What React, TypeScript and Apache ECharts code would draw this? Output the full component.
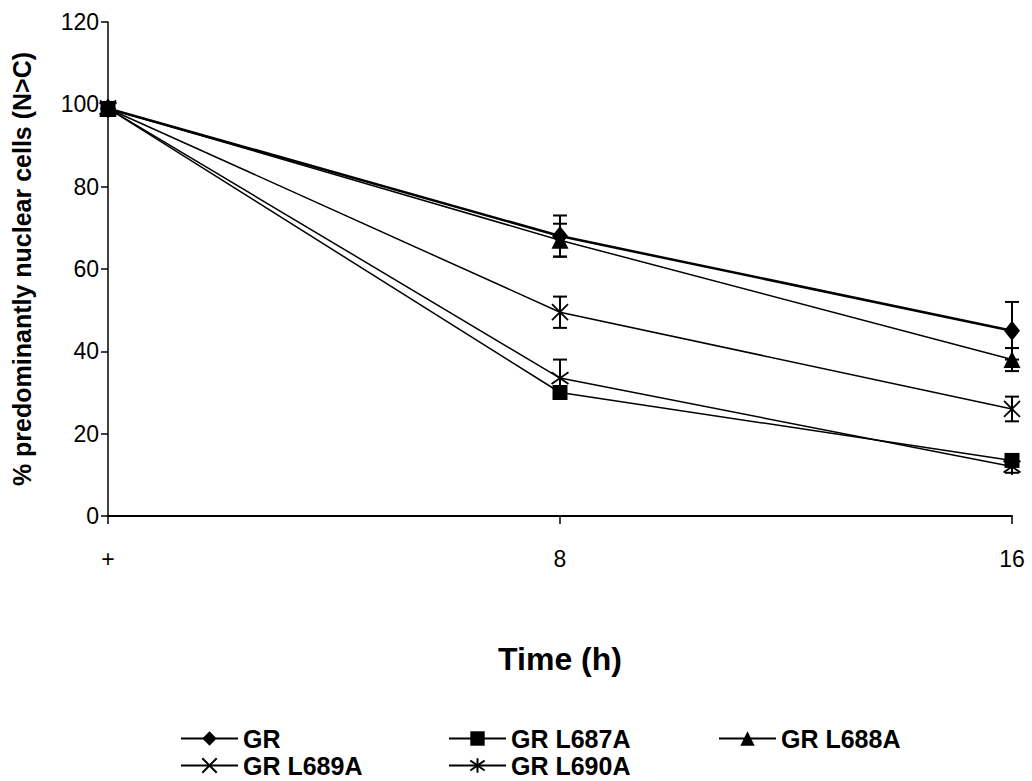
import React, { useEffect, useRef } from "react";
import * as echarts from "echarts";

const categories = ["+", "8", "16"];
const yTicks = { min: 0, max: 120, interval: 20 };

const seriesNames = ["GR", "GR L687A", "GR L688A", "GR L689A", "GR L690A"];
const grValues = [99, 68, 45];
const grErr = [1, 5, 7];
const l687aValues = [99, 30, 13.5];
const l687aErr = [1, 1, 1];
const l688aValues = [99, 67, 38];
const l688aErr = [1, 4, 2.8];
const l689aValues = [99, 49.5, 26];
const l689aErr = [1, 3.8, 3];
const l690aValues = [99, 33.5, 12];
const l690aErr = [1, 4.5, 1.5];

const X_PATH = "path://M0,0L10,10M0,10L10,0";
const STAR_PATH = "path://M5,0L5,10M0,1.5L10,8.5M0,8.5L10,1.5";

export default function App() {
  const ref = useRef<HTMLDivElement>(null);
  useEffect(() => {
    if (!ref.current) return;
    const chart = echarts.init(ref.current, null, { renderer: "svg" });
    const font = "Liberation Sans, Arial, Helvetica, sans-serif";

    const defs = [
      { name: seriesNames[0], values: grValues, err: grErr, symbol: "diamond", size: [16, 20], width: 2.5, stroke: false },
      { name: seriesNames[1], values: l687aValues, err: l687aErr, symbol: "rect", size: 15, width: 1.5, stroke: false },
      { name: seriesNames[2], values: l688aValues, err: l688aErr, symbol: "triangle", size: 17, width: 1.5, stroke: false },
      { name: seriesNames[3], values: l689aValues, err: l689aErr, symbol: X_PATH, size: 16, width: 1.5, stroke: true },
      { name: seriesNames[4], values: l690aValues, err: l690aErr, symbol: STAR_PATH, size: 17, width: 1.5, stroke: true },
    ];

    const lineSeries = defs.map((d) => ({
      name: d.name,
      type: "line",
      data: d.values,
      symbol: d.symbol,
      symbolSize: d.size,
      showAllSymbol: true,
      lineStyle: { color: "#000", width: d.width },
      itemStyle: d.stroke
        ? { color: "#000", borderColor: "#000", borderWidth: 1.8 }
        : { color: "#000", borderWidth: 0 },
      z: 3,
    }));

    const errSeries = defs.map((d) => ({
      name: d.name + " err",
      type: "custom",
      data: d.values.map((v, i) => [i, v - d.err[i], v + d.err[i]]),
      renderItem: (params: any, api: any) => {
        const x = api.value(0);
        const lo = api.coord([x, api.value(1)]);
        const hi = api.coord([x, api.value(2)]);
        const hw = 7;
        const style = { stroke: "#000", lineWidth: 2 };
        return {
          type: "group",
          children: [
            { type: "line", shape: { x1: lo[0], y1: lo[1], x2: hi[0], y2: hi[1] }, style },
            { type: "line", shape: { x1: lo[0] - hw, y1: lo[1], x2: lo[0] + hw, y2: lo[1] }, style },
            { type: "line", shape: { x1: hi[0] - hw, y1: hi[1], x2: hi[0] + hw, y2: hi[1] }, style },
          ],
        };
      },
      z: 2,
      silent: true,
    }));

    const legendPos = [
      { left: 180, top: 726 },
      { left: 448, top: 726 },
      { left: 718, top: 726 },
      { left: 180, top: 753 },
      { left: 448, top: 753 },
    ];

    const legends = seriesNames.map((n, i) => ({
      data: [n],
      left: legendPos[i].left,
      top: legendPos[i].top,
      padding: 0,
      itemWidth: 57,
      itemHeight: 18,
      itemGap: 6,
      selectedMode: false,
      textStyle: { fontFamily: font, fontWeight: "bold", fontSize: 25, lineHeight: 24, color: "#000", padding: [0, 0, 0, 0] },
    }));

    chart.setOption({
      animation: false,
      backgroundColor: "#fff",
      grid: { left: 108, right: 20, top: 22, bottom: 265, containLabel: false },
      legend: legends,
      xAxis: {
        type: "category",
        data: categories,
        boundaryGap: false,
        name: "Time (h)",
        nameLocation: "middle",
        nameGap: 127,
        nameTextStyle: { fontFamily: font, fontWeight: "bold", fontSize: 32, color: "#000" },
        axisLine: { lineStyle: { color: "#000", width: 2 } },
        axisTick: { show: true, length: 8, lineStyle: { color: "#000", width: 1.5 } },
        axisLabel: { fontFamily: font, fontSize: 23, color: "#000", margin: 31 },
        splitLine: { show: false },
      },
      yAxis: {
        type: "value",
        min: yTicks.min,
        max: yTicks.max,
        interval: yTicks.interval,
        name: "% predominantly nuclear cells (N>C)",
        nameLocation: "middle",
        nameGap: 74,
        nameTextStyle: { fontFamily: font, fontWeight: "bold", fontSize: 25, color: "#000" },
        axisLine: { show: true, lineStyle: { color: "#000", width: 1.5 } },
        axisTick: { show: true, length: 7, lineStyle: { color: "#000", width: 1.5 } },
        axisLabel: { fontFamily: font, fontSize: 23, color: "#000", margin: 9 },
        splitLine: { show: false },
      },
      series: [...errSeries, ...lineSeries],
    });
    return () => chart.dispose();
  }, []);
  return <div ref={ref} style={{ width: 1032, height: 781, position: "absolute", left: 0, top: 0 }} />;
}
